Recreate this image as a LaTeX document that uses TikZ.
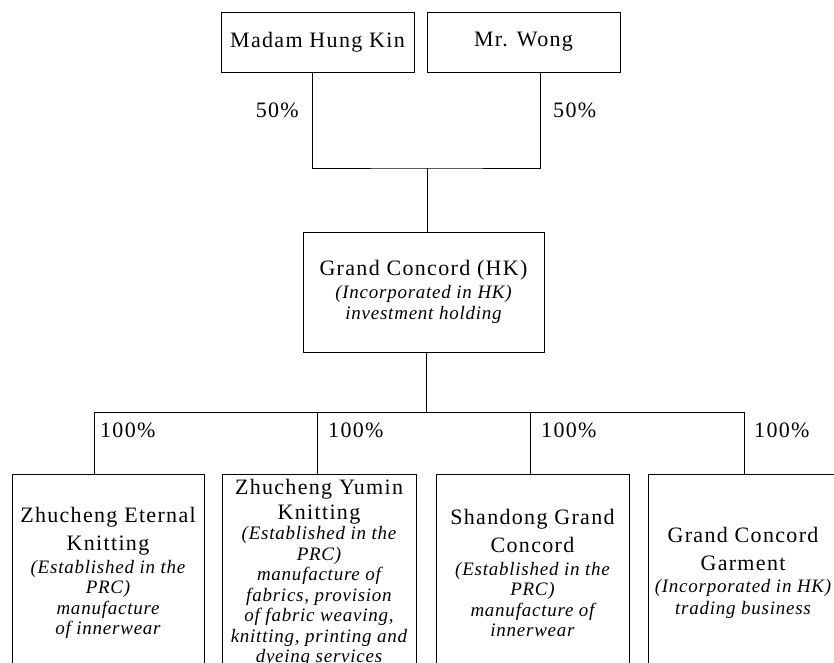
\documentclass[tikz,border=0pt]{standalone}
\usepackage{fontspec}
\setmainfont{Liberation Serif}[LetterSpace=6]
\newfontfamily\itfam{Liberation Serif}[LetterSpace=4]
\newcommand\mainsz{\fontsize{22}{20.5}\selectfont}
\newcommand\itl{\itfam\fontsize{19}{20.5}\selectfont\itshape}
\tikzset{
  orgbox/.style={draw, line width=0.8pt, inner sep=0pt, align=center, font=\mainsz},
  pct/.style={font=\mainsz, inner sep=0pt},
  conn/.style={line width=0.8pt}
}
\begin{document}
\begin{tikzpicture}[x=1pt,y=-1pt]
\useasboundingbox (0,0) rectangle (834,662);
\clip (0,0) rectangle (834,662);
% owners
\node[orgbox, minimum width=193pt, minimum height=60pt] (m) at (317.5,42) {Madam Hung Kin};
\node[orgbox, minimum width=193pt, minimum height=60pt] (w) at (523.5,42) {Mr. Wong};
% holding
\node[orgbox, minimum width=241pt, minimum height=120pt] (gc) at (423.5,292)
  {Grand Concord (HK)\\[2.5pt] {\itl (Incorporated in HK)}\\ {\itl investment holding}};
% subsidiaries
\node[orgbox, minimum width=192pt, minimum height=198pt] (b1) at (108,573)
  {Zhucheng Eternal\\[7.5pt] Knitting\\[2.5pt] {\itl (Established in the}\\ {\itl PRC)}\\ {\itl manufacture}\\ {\itl of innerwear}};
\node[orgbox, minimum width=194pt, minimum height=198pt] (b2) at (319,573)
  {Zhucheng Yumin\\[4.5pt] Knitting\\ {\itl (Established in the}\\ {\itl PRC)}\\ {\itl manufacture of}\\ {\itl fabrics, provision}\\ {\itl of fabric weaving,}\\ {\itl knitting, printing and}\\ {\itl dyeing services}};
\node[orgbox, minimum width=193pt, minimum height=198pt] (b3) at (532.5,573)
  {Shandong Grand\\[7.5pt] Concord\\[2.5pt] {\itl (Established in the}\\ {\itl PRC)}\\ {\itl manufacture of}\\ {\itl innerwear}};
\node[orgbox, minimum width=190pt, minimum height=198pt] (b4) at (743,573)
  {Grand Concord\\[7.5pt] Garment\\[1.5pt] {\itl (Incorporated in HK)}\\[2pt] {\itl trading business}};
% connectors top
\coordinate (j) at (427,168);
\coordinate (k) at (426.5,412);
\draw[conn] ([xshift=-5.5pt]m.south) |- (j) -| ([xshift=16.5pt]w.south);
\draw[conn] (j) -- (j |- gc.north);
\draw[conn] (k |- gc.south) -- (k);
\node[pct, anchor=east] (p1) at (299,110) {50\%};
\node[pct, anchor=west] (p2) at (553,110) {50\%};
% bus
\coordinate (bl) at (94,412);
\coordinate (br) at (744,412);
\draw[conn] (bl) -- (br);
\draw[conn] (bl) -- (bl |- b1.north);
\draw[conn] ([xshift=-2pt]b2.north |- bl) -- ([xshift=-2pt]b2.north);
\draw[conn] ([xshift=-2.5pt]b3.north |- bl) -- ([xshift=-2.5pt]b3.north);
\draw[conn] (br) -- (br |- b4.north);
\node[pct, anchor=west] (q1) at (100,430) {100\%};
\node[pct, anchor=west] (q2) at (328,430) {100\%};
\node[pct, anchor=west] (q3) at (541,430) {100\%};
\node[pct, anchor=west] (q4) at (754,430) {100\%};
\end{tikzpicture}
\end{document}
